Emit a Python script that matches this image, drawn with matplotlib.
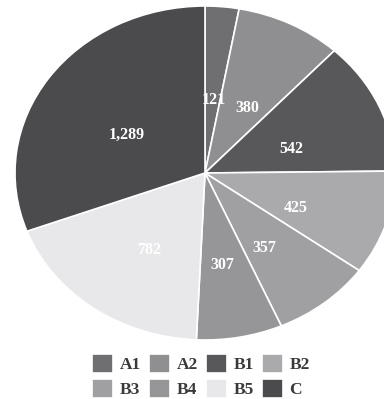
import matplotlib
matplotlib.use('Agg')
import matplotlib.pyplot as plt

labels = ['A1', 'A2', 'B1', 'B2', 'B3', 'B4', 'B5', 'C']
values = [121, 380, 542, 425, 357, 307, 782, 1289]
colors = ['#6f6f71', '#8f8f91', '#58585a', '#aaaaac',
          '#a0a0a2', '#969698', '#e8e8ea', '#4b4b4d']

W, H = 384, 399
fig = plt.figure(figsize=(W / 100, H / 100), dpi=100)

# slightly wide ellipse, runs off the right edge
cx, cy, rx, ry = 205, 173, 190, 167
ax = fig.add_axes([(cx - rx) / W, (H - cy - ry) / H, 2 * rx / W, 2 * ry / H])

wedges, texts = ax.pie(values, colors=colors, startangle=90, counterclock=False,
                       labels=[f'{v:,}' for v in values], labeldistance=0.5,
                       wedgeprops=dict(edgecolor='white', linewidth=1.2),
                       textprops=dict(color='white', fontsize=11.5, fontweight='bold',
                                      family='Liberation Serif'))
for t in texts:
    x, y = t.get_position()
    t.set_position((x, y - 0.06))
    t.set_ha('center')
    t.set_va('center')
ax.set_aspect('auto')
ax.set_xlim(-1, 1)
ax.set_ylim(-1, 1)
ax.axis('off')

# legend fills column by column, so reorder to read across rows
ncol = 4
order = [r * ncol + c for c in range(ncol) for r in range(2)]
leg = fig.legend([wedges[i] for i in order], [labels[i] for i in order],
                 ncol=ncol, frameon=False, loc='center',
                 bbox_to_anchor=(201 / W, 1 - 376 / H),
                 prop=dict(family='Liberation Serif', size=12.5, weight='bold'),
                 handlelength=1.2, handleheight=1.3, handletextpad=0.4,
                 columnspacing=0.45, labelspacing=0.3, borderpad=0)
for t in leg.get_texts():
    t.set_color('#3a3a3a')

fig.savefig('out.png', dpi=100)
